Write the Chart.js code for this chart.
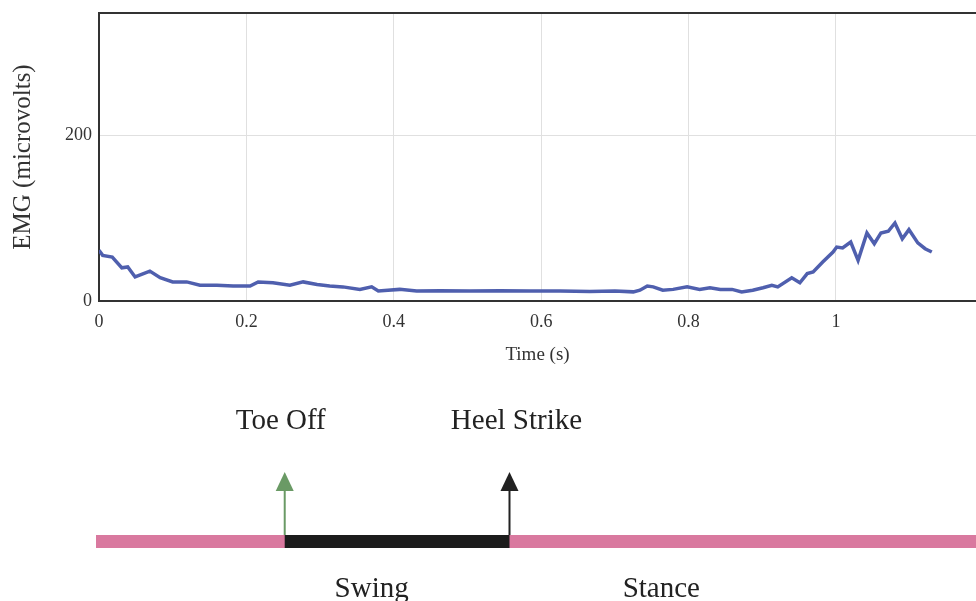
<!DOCTYPE html>
<html>
<head>
<meta charset="utf-8">
<script src="https://cdn.jsdelivr.net/npm/chart.js@4/dist/chart.umd.min.js"></script>
<style>
  body { margin: 0; background: #fff; }
  #wrap { width: 976px; height: 601px; position: relative; }
</style>
</head>
<body>
<div id="wrap"><canvas id="emg-chart"></canvas></div>
<script>
// EMG trace over one gait cycle
const times = [0, 0.005, 0.018, 0.031, 0.039, 0.049, 0.069, 0.083, 0.100, 0.119,
  0.137, 0.160, 0.182, 0.205, 0.216, 0.236, 0.259, 0.277, 0.296, 0.313,
  0.331, 0.354, 0.370, 0.379, 0.392, 0.408, 0.431, 0.463, 0.503, 0.544,
  0.585, 0.626, 0.666, 0.700, 0.725, 0.734, 0.744, 0.752, 0.765, 0.779,
  0.798, 0.815, 0.829, 0.843, 0.859, 0.872, 0.887, 0.901, 0.913, 0.921,
  0.940, 0.951, 0.961, 0.969, 0.982, 0.996, 1.001, 1.009, 1.020, 1.030,
  1.042, 1.052, 1.061, 1.071, 1.080, 1.090, 1.099, 1.111, 1.121, 1.130]
const emg = [61, 55, 53, 40, 41, 29, 36, 28, 23, 23,
  19, 19, 18, 18, 23, 22, 19, 23, 20, 18,
  17, 14, 17, 12, 13, 14, 12, 12.5, 12, 12.5,
  12, 12, 11.5, 12, 11, 13, 18, 17, 13, 14,
  17, 14, 16, 14, 14, 11, 13, 16, 19, 17,
  28, 22, 33, 35, 47, 59, 65, 64, 71, 49,
  82, 69, 82, 84, 94, 75, 86, 70, 63, 59]

// gait events and phases shown under the plot
const eventNames = ['Toe Off', 'Heel Strike']
const eventTimes = [0.252, 0.557]
const phaseNames = ['Swing', 'Stance']

const serif = '"Liberation Serif", "Times New Roman", serif'
const points = times.map((t, i) => ({ x: t, y: emg[i] }))

const gaitBar = {
  id: 'gaitBar',
  afterDraw(chart) {
    const { ctx, chartArea } = chart
    const xs = chart.scales.x
    const toeX = xs.getPixelForValue(eventTimes[0])
    const heelX = xs.getPixelForValue(eventTimes[1])
    ctx.save()

    // frame line along the top of the plot
    ctx.strokeStyle = '#333'
    ctx.lineWidth = 2
    ctx.beginPath()
    ctx.moveTo(chartArea.left, chartArea.top)
    ctx.lineTo(chartArea.right, chartArea.top)
    ctx.stroke()

    // stance / swing strip
    const barTop = 535, barH = 13
    ctx.fillStyle = '#d9799f'
    ctx.fillRect(chartArea.left - 3, barTop, chartArea.right - chartArea.left + 3, barH)
    ctx.fillStyle = '#1c1c1c'
    ctx.fillRect(toeX, barTop, heelX - toeX, barH)

    // event arrows
    const arrowColors = ['#6a9a65', '#222']
    ;[toeX, heelX].forEach((x, i) => {
      ctx.strokeStyle = arrowColors[i]
      ctx.fillStyle = arrowColors[i]
      ctx.lineWidth = 2
      ctx.beginPath()
      ctx.moveTo(x, barTop)
      ctx.lineTo(x, 490)
      ctx.stroke()
      ctx.beginPath()
      ctx.moveTo(x, 472)
      ctx.lineTo(x - 9, 491)
      ctx.lineTo(x + 9, 491)
      ctx.closePath()
      ctx.fill()

      ctx.fillStyle = '#222'
      ctx.font = '29px ' + serif
      ctx.textAlign = 'center'
      ctx.textBaseline = 'alphabetic'
      ctx.fillText(eventNames[i], x + (i === 0 ? -4 : 7), 429)
    })

    // phase names under the strip
    const phaseAt = [0.37, 0.763]
    phaseNames.forEach((name, i) => {
      ctx.fillText(name, xs.getPixelForValue(phaseAt[i]), 597)
    })
    ctx.restore()
  }
}

new Chart(document.getElementById('emg-chart'), {
  type: 'line',
  data: {
    datasets: [{
      label: 'EMG',
      data: points,
      borderColor: '#4f5fae',
      borderWidth: 3.5,
      pointRadius: 0,
      tension: 0,
      fill: false
    }]
  },
  options: {
    responsive: true,
    maintainAspectRatio: false,
    animation: false,
    layout: { padding: { top: 13, right: 0, bottom: 230, left: 0 } },
    plugins: {
      legend: { display: false },
      tooltip: { enabled: false }
    },
    scales: {
      x: {
        type: 'linear',
        min: 0,
        max: 1.19,
        afterFit: (scale) => { scale.height = 70 },
        grid: { color: '#e0e0e0', drawTicks: false },
        border: { color: '#333', width: 2 },
        ticks: {
          stepSize: 0.2,
          includeBounds: false,
          padding: 10,
          color: '#333',
          font: { family: serif, size: 18 },
          maxRotation: 0,
          callback: (v) => String(+v.toFixed(1))
        },
        title: {
          display: true,
          text: 'Time (s)',
          color: '#333',
          font: { family: serif, size: 19 },
          padding: { top: 0, bottom: 5 }
        }
      },
      y: {
        min: 0,
        max: 347,
        afterFit: (scale) => {
          scale.width = 99
          scale.paddingTop = 0
          scale.paddingBottom = 0
        },
        grid: { color: '#e0e0e0', drawTicks: false },
        border: { color: '#333', width: 2 },
        ticks: {
          stepSize: 200,
          includeBounds: false,
          padding: 7,
          color: '#333',
          font: { family: serif, size: 18 }
        },
        title: {
          display: true,
          text: 'EMG (microvolts)',
          color: '#333',
          font: { family: serif, size: 25 },
          padding: { top: 8, bottom: 0 }
        }
      }
    }
  },
  plugins: [gaitBar]
})
</script>
</body>
</html>
